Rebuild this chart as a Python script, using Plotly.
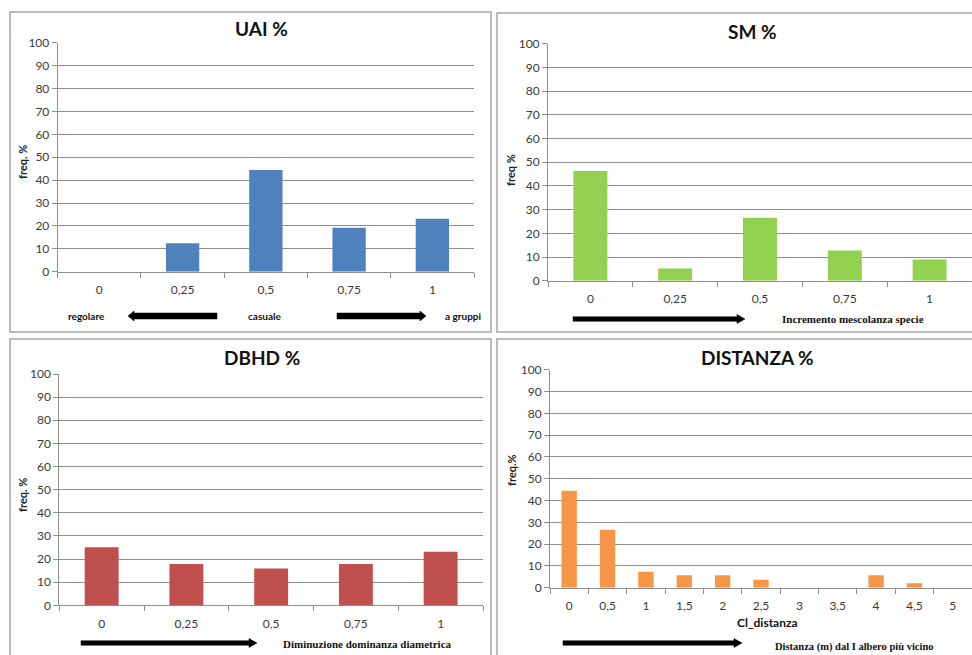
import plotly.graph_objects as go

W, H = 972, 655

# ---------------- data ----------------
uai_cats = ["0", "0,25", "0,5", "0,75", "1"]
uai_vals = [0, 12.4, 44.4, 19.2, 23.1]

sm_cats = ["0", "0,25", "0,5", "0,75", "1"]
sm_vals = [46.3, 5.2, 26.6, 12.7, 8.9]

dbhd_cats = ["0", "0,25", "0,5", "0,75", "1"]
dbhd_vals = [25.1, 17.9, 15.9, 17.9, 23.1]

dist_cats = ["0", "0,5", "1", "1,5", "2", "2,5", "3", "3,5", "4", "4,5", "5"]
dist_vals = [44.5, 26.6, 7.3, 5.7, 5.7, 3.7, 0, 0, 5.7, 2.0, 0]

titles = ["UAI %", "SM %", "DBHD %", "DISTANZA %"]
ytitles = ["freq. %", "freq %", "freq. %", "freq.%"]
colors = ["#4F81BD", "#92D050", "#C0504D", "#F79646"]

# ---------------- helpers ----------------
def px(x):
    return x / W

def py(y):
    return 1 - y / H

SANS = "Lato, Carlito, Calibri, 'Open Sans', sans-serif"
SERIF = "'Liberation Serif', 'Times New Roman', serif"
GRID = "#8E8E8E"

fig = go.Figure()

# panel pixel geometry: (x0, x1, y_top(100), y_bottom(0))
panels = [
    (57.7, 474.0, 42.7, 271.7),
    (548.0, 972.0, 43.7, 280.7),
    (59.3, 483.0, 374.0, 605.3),
    (550.0, 972.0, 369.7, 587.7),
]
datasets = [
    (uai_cats, uai_vals),
    (sm_cats, sm_vals),
    (dbhd_cats, dbhd_vals),
    (dist_cats, dist_vals),
]

layout = dict(
    width=W, height=H,
    margin=dict(l=0, r=0, t=0, b=0, autoexpand=False),
    paper_bgcolor="white", plot_bgcolor="white",
    showlegend=False,
    bargap=0.6,
    font=dict(family=SANS, size=12, color="#333333"),
)

for i, ((x0, x1, yt, yb), (cats, vals)) in enumerate(zip(panels, datasets)):
    n = i + 1
    xa = "x" if n == 1 else f"x{n}"
    ya = "y" if n == 1 else f"y{n}"
    fig.add_trace(go.Bar(x=cats, y=vals, marker=dict(color=colors[i], line=dict(width=0)),
                         xaxis=xa, yaxis=ya, hoverinfo="x+y"))
    xkey = "xaxis" if n == 1 else f"xaxis{n}"
    ykey = "yaxis" if n == 1 else f"yaxis{n}"
    layout[xkey] = dict(
        domain=[px(x0), px(x1)], anchor=ya, type="category", automargin=False,
        showline=True, linecolor=GRID, linewidth=1,
        ticks="outside", ticklen=5, tickcolor=GRID, tickson="boundaries",
        showgrid=False, tickfont=dict(size=12, color="#3a3a3a", family=SANS),
        ticklabelstandoff=7, fixedrange=True,
    )
    layout[ykey] = dict(
        domain=[py(yb), py(yt)], anchor=xa, range=[0, 100], automargin=False,
        tickmode="array", tickvals=list(range(0, 101, 10)),
        showline=True, linecolor=GRID, linewidth=1,
        ticks="outside", ticklen=5, tickcolor=GRID,
        showgrid=True, gridcolor=GRID, gridwidth=1, zeroline=False,
        tickfont=dict(size=12, color="#3a3a3a", family=SANS), fixedrange=True,
    )

fig.update_layout(**layout)

shapes = []
annotations = []

# panel borders
borders = [(10, 12, 491, 332), (497, 13, 975, 332), (10, 339, 491, 660), (497, 339, 975, 660)]
for (bx0, by0, bx1, by1) in borders:
    shapes.append(dict(type="rect", xref="paper", yref="paper",
                       x0=px(bx0), x1=px(bx1), y0=py(by1), y1=py(by0),
                       line=dict(color="#A6A6A6", width=1.5), fillcolor="rgba(0,0,0,0)"))

# titles
title_pos = [(261, 28), (752, 32), (262, 357), (757, 357)]
for t, (tx, ty) in zip(titles, title_pos):
    annotations.append(dict(text=f"<b>{t}</b>", x=px(tx), y=py(ty), xref="paper", yref="paper",
                            showarrow=False, font=dict(size=19, family=SANS, color="#111111"),
                            xanchor="center", yanchor="middle"))

# y-axis titles
ytitle_pos = [(22, 162), (510, 170), (22, 495), (511, 470)]
for t, (tx, ty) in zip(ytitles, ytitle_pos):
    annotations.append(dict(text=f"<b>{t}</b>", x=px(tx), y=py(ty), xref="paper", yref="paper",
                            showarrow=False, textangle=-90, font=dict(size=11, family=SANS, color="#222222"),
                            xanchor="center", yanchor="middle"))

# bottom labels
bottom_texts = [
    ("<b>regolare</b>", 86, 316, SANS, 10),
    ("<b>casuale</b>", 264, 316, SANS, 10),
    ("<b>a gruppi</b>", 463, 316, SANS, 10),
    ("<b>Incremento mescolanza specie</b>", 853, 319, SERIF, 11),
    ("<b>Diminuzione dominanza diametrica</b>", 367, 644, SERIF, 11),
    ("<b>Cl_distanza</b>", 767, 622, SANS, 12),
    ("<b>Distanza (m) dal I albero più vicino</b>", 854, 647, SERIF, 10.5),
]
for t, tx, ty, fam, sz in bottom_texts:
    annotations.append(dict(text=t, x=px(tx), y=py(ty), xref="paper", yref="paper",
                            showarrow=False, font=dict(size=sz, family=fam, color="#111111"),
                            xanchor="center", yanchor="middle"))

# arrows: (tail_x, head_x, y, thickness, head_len, head_half)
arrows = [
    (217, 128, 316, 6, 6, 5),
    (337, 426, 316, 6, 6, 5),
    (573, 745, 319, 4.5, 8, 4.5),
    (81, 257, 643, 4.5, 8, 4.5),
    (563, 742, 643, 4.5, 8, 4.5),
]
for (tx, hx, ay, th, hl, hh) in arrows:
    d = 1 if hx > tx else -1
    bx = hx - d * hl
    pts = [(tx, ay - th / 2), (bx, ay - th / 2), (bx, ay - hh), (hx, ay), (bx, ay + hh),
           (bx, ay + th / 2), (tx, ay + th / 2)]
    path = "M " + " L ".join(f"{px(a):.5f},{py(b):.5f}" for a, b in pts) + " Z"
    shapes.append(dict(type="path", xref="paper", yref="paper", path=path,
                       fillcolor="black", line=dict(color="black", width=0.5)))

fig.update_layout(shapes=shapes, annotations=annotations)
fig.write_html("out.html", config={"displayModeBar": False},
               post_script="document.body.style.margin='0';document.body.style.overflow='hidden';")
